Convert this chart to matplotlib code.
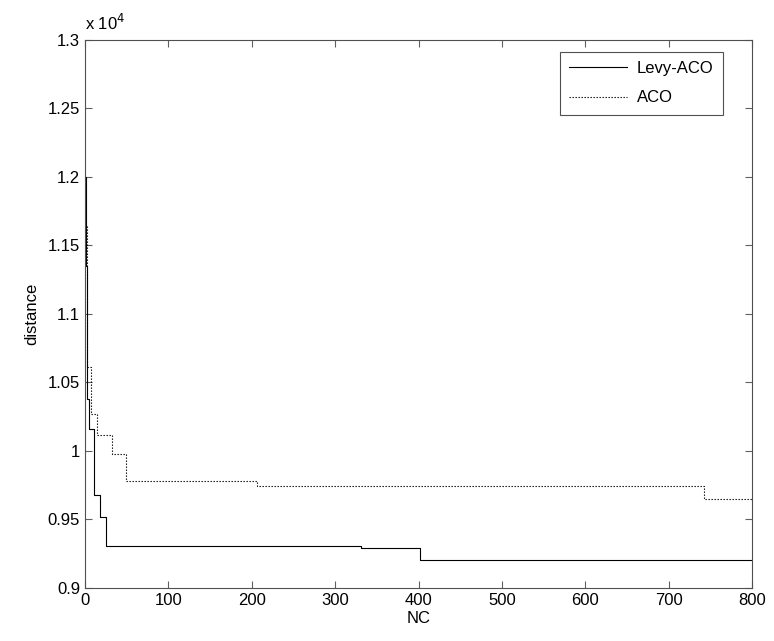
import numpy as np
import matplotlib.pyplot as plt

plt.rcParams['font.family'] = ['Liberation Sans', 'DejaVu Sans']

# step curves (NC where each new best appears, best distance)
levy_nc = [0, 1, 2, 5, 11, 18, 25, 331, 402, 800]
levy_dist = [12000, 11350, 10380, 10160, 9680, 9516, 9307, 9290, 9204, 9204]

aco_nc = [0, 2, 7.5, 14.5, 32.5, 49, 206, 742, 800]
aco_dist = [11650, 10610, 10270, 10120, 9980, 9781, 9742, 9647, 9647]

yticks = [0.9, 0.95, 1, 1.05, 1.1, 1.15, 1.2, 1.25, 1.3]

fig = plt.figure(figsize=(7.74, 6.41), dpi=100)
ax = fig.add_axes([0.1098, 0.0827, 0.8618, 0.8549])

ax.plot(levy_nc, np.array(levy_dist) / 1e4, drawstyle='steps-post',
        color='black', lw=0.8, label='Levy-ACO')
ax.plot(aco_nc, np.array(aco_dist) / 1e4, drawstyle='steps-post',
        color='black', lw=0.8, linestyle=(0, (1.2, 1.5)), label='ACO')

ax.set_xlim(0, 800)
ax.set_ylim(0.9, 1.3)
ax.set_yticks(yticks)
ax.set_yticklabels(['%g' % t for t in yticks])
ax.set_xticks(np.arange(0, 801, 100))

ax.tick_params(direction='in', length=5, top=True, right=True,
               labelsize=12, color='#606060')
for s in ax.spines.values():
    s.set_color('#505050')
    s.set_linewidth(0.8)

ax.set_xlabel('NC', fontsize=12, labelpad=2)
ax.set_ylabel('distance', fontsize=12, labelpad=6)
ax.text(0.0, 1.012, r'x 10$^4$', transform=ax.transAxes, fontsize=12,
        ha='left', va='bottom')

leg = ax.legend(loc='upper right', bbox_to_anchor=(0.9565, 0.978),
                fontsize=12, fancybox=False, framealpha=1,
                edgecolor='#505050', handlelength=3.5, borderpad=0.55,
                labelspacing=0.85, handletextpad=0.6, borderaxespad=0)
leg.get_frame().set_linewidth(0.8)

fig.savefig('out.png', dpi=100)
